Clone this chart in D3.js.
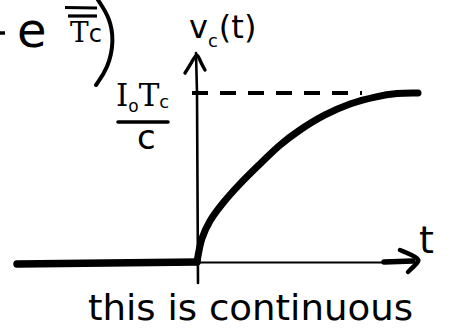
<!DOCTYPE html>
<html>
<head>
<meta charset="utf-8">
<script src="https://cdn.jsdelivr.net/npm/d3@7"></script>
<style>
  html, body { margin: 0; padding: 0; background: #fff; }
  svg { display: block; }
  text { fill: #000; }
</style>
</head>
<body>
<svg id="chart" width="460" height="330"></svg>
<script>
// Capacitor voltage after the current source switches on at t = 0
const flatT = [-3.6, 0];
const flatV = [0, 0];
const riseT = [0, 0.1, 0.26, 0.52, 0.86, 1.26, 1.66, 2.06, 2.56, 3.06, 3.56, 4.0, 4.42];
const riseV = [0, 0.14, 0.243, 0.349, 0.462, 0.58, 0.692, 0.781, 0.87, 0.935, 0.976, 0.997, 1.0];
const asymptote = 1.0;      // I0·Tc / C
const asymptoteEnd = 3.3;

const SANS = "DejaVu Sans, sans-serif";
const SERIF = "DejaVu Serif, serif";

const svg = d3.select("#chart");
const x = d3.scaleLinear().domain([0, 4]).range([197, 397]);
const y = d3.scaleLinear().domain([0, 1]).range([262, 93]);

const ink = "#000";

// vertical axis with arrow
svg.append("path")
  .attr("d", d3.line()([[x(0) + 1, y(0) + 21], [x(0), y(1)], [x(0) - 1, 53]]))
  .attr("fill", "none").attr("stroke", ink).attr("stroke-width", 2.6)
  .attr("stroke-linecap", "round");
svg.append("path")
  .attr("d", d3.line().curve(d3.curveBasis)([[185, 73], [192, 62], [197, 52], [200, 61], [205, 70]]))
  .attr("fill", "none").attr("stroke", ink).attr("stroke-width", 3.4)
  .attr("stroke-linecap", "round").attr("stroke-linejoin", "round");

// horizontal axis: thin shaft, thicker end and arrowhead
svg.append("line")
  .attr("x1", x(0)).attr("y1", y(0) + 0.5).attr("x2", 386).attr("y2", y(0) + 0.5)
  .attr("stroke", ink).attr("stroke-width", 2.2);
svg.append("line")
  .attr("x1", 384).attr("y1", y(0)).attr("x2", 413).attr("y2", y(0) - 1)
  .attr("stroke", ink).attr("stroke-width", 5.5).attr("stroke-linecap", "round");
svg.append("path")
  .attr("d", d3.line().curve(d3.curveBasis)([[400, 250], [412, 255], [421, 260], [414, 266], [408, 272]]))
  .attr("fill", "none").attr("stroke", ink).attr("stroke-width", 4.5)
  .attr("stroke-linecap", "round").attr("stroke-linejoin", "round");

// dashed asymptote
svg.append("line")
  .attr("x1", x(0) - 5).attr("y1", y(asymptote)).attr("x2", x(asymptoteEnd)).attr("y2", y(asymptote))
  .attr("stroke", ink).attr("stroke-width", 4.2)
  .attr("stroke-dasharray", "16 12");

// v = 0 before switching
svg.append("path")
  .attr("d", d3.line().x(d => x(d[0])).y((d, i) => y(d[1]) + (i === 0 ? 2 : 0))(flatT.map((t, i) => [t, flatV[i]])))
  .attr("fill", "none").attr("stroke", ink).attr("stroke-width", 7.5)
  .attr("stroke-linecap", "round");

// charging curve
svg.append("path")
  .attr("d", d3.line().curve(d3.curveCatmullRom).x(d => x(d[0])).y(d => y(d[1]))(riseT.map((t, i) => [t, riseV[i]])))
  .attr("fill", "none").attr("stroke", ink).attr("stroke-width", 7)
  .attr("stroke-linecap", "round").attr("stroke-linejoin", "round");

// axis labels
const vl = svg.append("text").attr("x", 189).attr("y", 38).style("font-family", SANS).attr("font-size", 32);
vl.append("tspan").text("v");
vl.append("tspan").attr("font-size", 18).attr("dy", 9).text("c");
vl.append("tspan").attr("dy", -9).attr("dx", 1).text("(t)");

svg.append("text").attr("x", 419).attr("y", 253).style("font-family", SANS).attr("font-size", 38).text("t");

// level label I0·Tc / C
const num = svg.append("text").attr("x", 116).attr("y", 106).style("font-family", SERIF).attr("font-size", 31);
num.append("tspan").text("I");
num.append("tspan").attr("font-size", 17).attr("dy", 6).style("font-family", SANS).text("o");
num.append("tspan").attr("dy", -6).text("T");
num.append("tspan").attr("font-size", 18).attr("dy", 2).style("font-family", SANS).text("c");
svg.append("line").attr("x1", 118).attr("y1", 122).attr("x2", 168).attr("y2", 122)
  .attr("stroke", ink).attr("stroke-width", 3.6).attr("stroke-linecap", "round");
svg.append("text").attr("x", 137).attr("y", 149).style("font-family", SANS).attr("font-size", 34).text("c");

// tail of the expression above
svg.append("line").attr("x1", 0).attr("y1", 33).attr("x2", 5).attr("y2", 33)
  .attr("stroke", ink).attr("stroke-width", 3.5);
svg.append("text").attr("x", 17).attr("y", 47).style("font-family", SANS).attr("font-size", 48).text("e");
svg.append("line").attr("x1", 65).attr("y1", 7.5).attr("x2", 97).attr("y2", 8)
  .attr("stroke", ink).attr("stroke-width", 3.2);
svg.append("line").attr("x1", 68).attr("y1", 16).attr("x2", 97).attr("y2", 16)
  .attr("stroke", ink).attr("stroke-width", 3.2);
const tc = svg.append("text").attr("x", 70).attr("y", 42).style("font-family", SERIF).attr("font-size", 28);
tc.append("tspan").text("T");
tc.append("tspan").style("font-family", SANS).attr("font-size", 24).text("c");
svg.append("path")
  .attr("d", d3.line().curve(d3.curveBasis)([[98, 0], [110, 18], [114, 42], [108, 68], [96, 85]]))
  .attr("fill", "none").attr("stroke", ink).attr("stroke-width", 4)
  .attr("stroke-linecap", "round");

// caption
svg.append("text").attr("x", 88).attr("y", 320).style("font-family", SANS).attr("font-size", 35)
  .attr("textLength", 325).attr("lengthAdjust", "spacingAndGlyphs")
  .text("this is continuous");
</script>
</body>
</html>
